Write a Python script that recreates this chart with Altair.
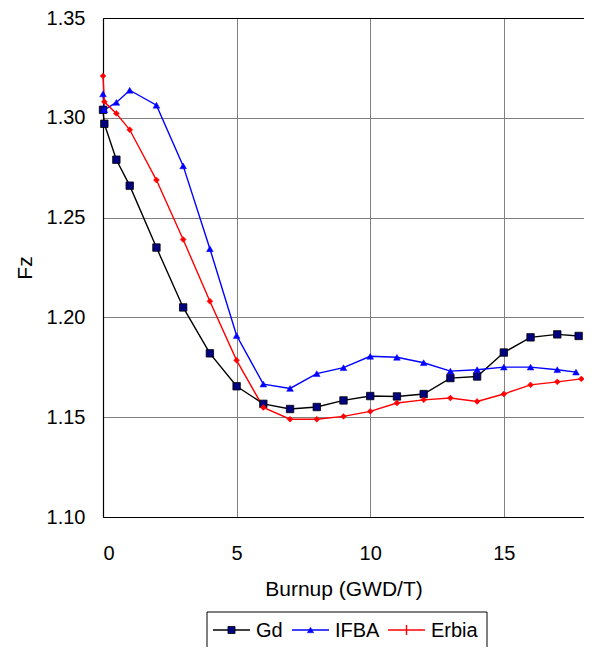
import altair as alt
import pandas as pd

# ---- data ----
series_names = ["Gd", "IFBA", "Erbia"]

gd_x = [0, 0.05, 0.5, 1, 2, 3, 4, 5, 6, 7, 8, 9, 10, 11, 12, 13, 14, 15, 16, 17, 17.8]
gd_y = [1.304, 1.297, 1.279, 1.266, 1.235, 1.205, 1.182, 1.1655, 1.1567, 1.1541, 1.1551,
        1.1584, 1.1606, 1.1604, 1.1616, 1.1696, 1.1704, 1.1824, 1.1900, 1.1915, 1.1907]

ifba_x = [0, 0.05, 0.5, 1, 2, 3, 4, 5, 6, 7, 8, 9, 10, 11, 12, 13, 14, 15, 16, 17, 17.7]
ifba_y = [1.312, 1.304, 1.3077, 1.3138, 1.3063, 1.2759, 1.2344, 1.1909, 1.1666, 1.1644, 1.1718,
          1.1748, 1.1805, 1.1800, 1.1773, 1.1731, 1.1738, 1.1751, 1.1751, 1.1738, 1.1726]

erbia_x = [0, 0.05, 0.5, 1, 2, 3, 4, 5, 6, 7, 8, 9, 10, 11, 12, 13, 14, 15, 16, 17, 17.9]
erbia_y = [1.321, 1.308, 1.3022, 1.294, 1.2688, 1.239, 1.2081, 1.1785, 1.1549, 1.149, 1.149,
           1.1504, 1.1529, 1.1571, 1.1587, 1.1596, 1.1579, 1.1616, 1.1662, 1.1677, 1.1692]

x_tick_values = [0, 5, 10, 15]
y_tick_values = [1.10, 1.15, 1.20, 1.25, 1.30, 1.35]

rows = []
for name, xs, ys in [("Gd", gd_x, gd_y), ("IFBA", ifba_x, ifba_y), ("Erbia", erbia_x, erbia_y)]:
    for i, (xv, yv) in enumerate(zip(xs, ys)):
        rows.append({"Series": name, "Burnup": xv, "Fz": yv, "order": i})
df = pd.DataFrame(rows)

FONT = "Liberation Sans"
line_colors = ["#000000", "#0000FF", "#FF0000"]

PLOT_W, PLOT_H = 481, 499

xscale = alt.Scale(domain=[0, 18], nice=False, zero=False)
yscale = alt.Scale(domain=[1.10, 1.35], nice=False, zero=False)

x_axis = alt.Axis(
    values=x_tick_values, grid=True, gridColor="#808080", gridWidth=1,
    ticks=False, labelPadding=26, labelFontSize=20, labelFont=FONT, labelColor="black",
    domainColor="black", domainWidth=1.2,
    title="Burnup (GWD/T)", titleFontSize=21, titleFont=FONT, titleFontWeight="normal",
    titleColor="black", titlePadding=15,
)
y_axis = alt.Axis(
    values=y_tick_values, format=".2f", grid=True,
    gridColor=alt.ConditionalAxisColor(condition={"test": "datum.value >= 1.349", "value": "black"}, value="#808080"),
    gridWidth=1,
    ticks=False, labelPadding=18, labelFontSize=20, labelFont=FONT, labelColor="black",
    domainColor="black", domainWidth=1.2,
    title="Fz", titleFontSize=21, titleFont=FONT, titleFontWeight="normal",
    titleColor="black", titlePadding=11,
)

base = alt.Chart(df)

lines = base.mark_line(strokeWidth=1.4).encode(
    x=alt.X("Burnup:Q", scale=xscale, axis=x_axis),
    y=alt.Y("Fz:Q", scale=yscale, axis=y_axis),
    color=alt.Color("Series:N", scale=alt.Scale(domain=series_names, range=line_colors), legend=None),
    order="order:Q",
)

gd_pts = base.transform_filter("datum.Series === 'Gd'").mark_point(
    shape="square", filled=True, fill="#000080", stroke="black", strokeWidth=0.8, size=55, opacity=1
).encode(x="Burnup:Q", y="Fz:Q")

ifba_pts = base.transform_filter("datum.Series === 'IFBA'").mark_point(
    shape="triangle-up", filled=True, fill="#0000FF", stroke="#0000FF", strokeWidth=0.5, size=45, opacity=1
).encode(x="Burnup:Q", y="Fz:Q")

erbia_pts = base.transform_filter("datum.Series === 'Erbia'").mark_point(
    shape="diamond", filled=True, fill="#FF0000", stroke="#FF0000", strokeWidth=0.5, size=35, opacity=1
).encode(x="Burnup:Q", y="Fz:Q")

# ---- hand-drawn legend box below the plot (pixel layout relative to plot origin) ----
LEG_LEFT, LEG_TOP, LEG_W, LEG_H = 104, 594, 280, 36
leg_cy = LEG_TOP + LEG_H / 2
entry_starts = [110, 189, 285]
SYM_W = 37
one_row = pd.DataFrame({"k": [0]})

legend_layers = [
    alt.Chart(one_row).mark_rect(fill="white", stroke="black", strokeWidth=1).encode(
        x=alt.value(LEG_LEFT), x2=alt.value(LEG_LEFT + LEG_W),
        y=alt.value(LEG_TOP), y2=alt.value(LEG_TOP + LEG_H),
    )
]
for i, name in enumerate(series_names):
    x0 = entry_starts[i]
    xc = x0 + SYM_W / 2
    legend_layers.append(
        alt.Chart(one_row).mark_rule(color=line_colors[i], strokeWidth=1.4).encode(
            x=alt.value(x0), x2=alt.value(x0 + SYM_W), y=alt.value(leg_cy)
        )
    )
    if name == "Gd":
        legend_layers.append(
            alt.Chart(one_row).mark_point(shape="square", filled=True, fill="#000080", stroke="black",
                                          strokeWidth=0.8, size=50, opacity=1).encode(
                x=alt.value(xc), y=alt.value(leg_cy))
        )
    elif name == "IFBA":
        legend_layers.append(
            alt.Chart(one_row).mark_point(shape="triangle-up", filled=True, fill="#0000FF", stroke="#0000FF",
                                          strokeWidth=0.5, size=40, opacity=1).encode(
                x=alt.value(xc), y=alt.value(leg_cy))
        )
    else:
        legend_layers.append(
            alt.Chart(one_row).mark_rule(color="#FF0000", strokeWidth=1.4).encode(
                x=alt.value(xc), y=alt.value(leg_cy - 5), y2=alt.value(leg_cy + 5))
        )
    legend_layers.append(
        alt.Chart(pd.DataFrame({"Series": [name]})).mark_text(
            align="left", baseline="middle", font=FONT, fontSize=20, color="black"
        ).encode(x=alt.value(x0 + SYM_W + 6), y=alt.value(leg_cy + 1), text="Series:N")
    )

chart = alt.layer(lines, gd_pts, ifba_pts, erbia_pts, *legend_layers).properties(
    width=PLOT_W, height=PLOT_H,
    autosize=alt.AutoSizeParams(type="none"),
    padding={"left": 95, "top": 10, "right": 0, "bottom": 130},
    background="white",
).configure_view(stroke="#808080", strokeWidth=1)

chart.save("out.html", embed_options={"renderer": "svg", "actions": False})
